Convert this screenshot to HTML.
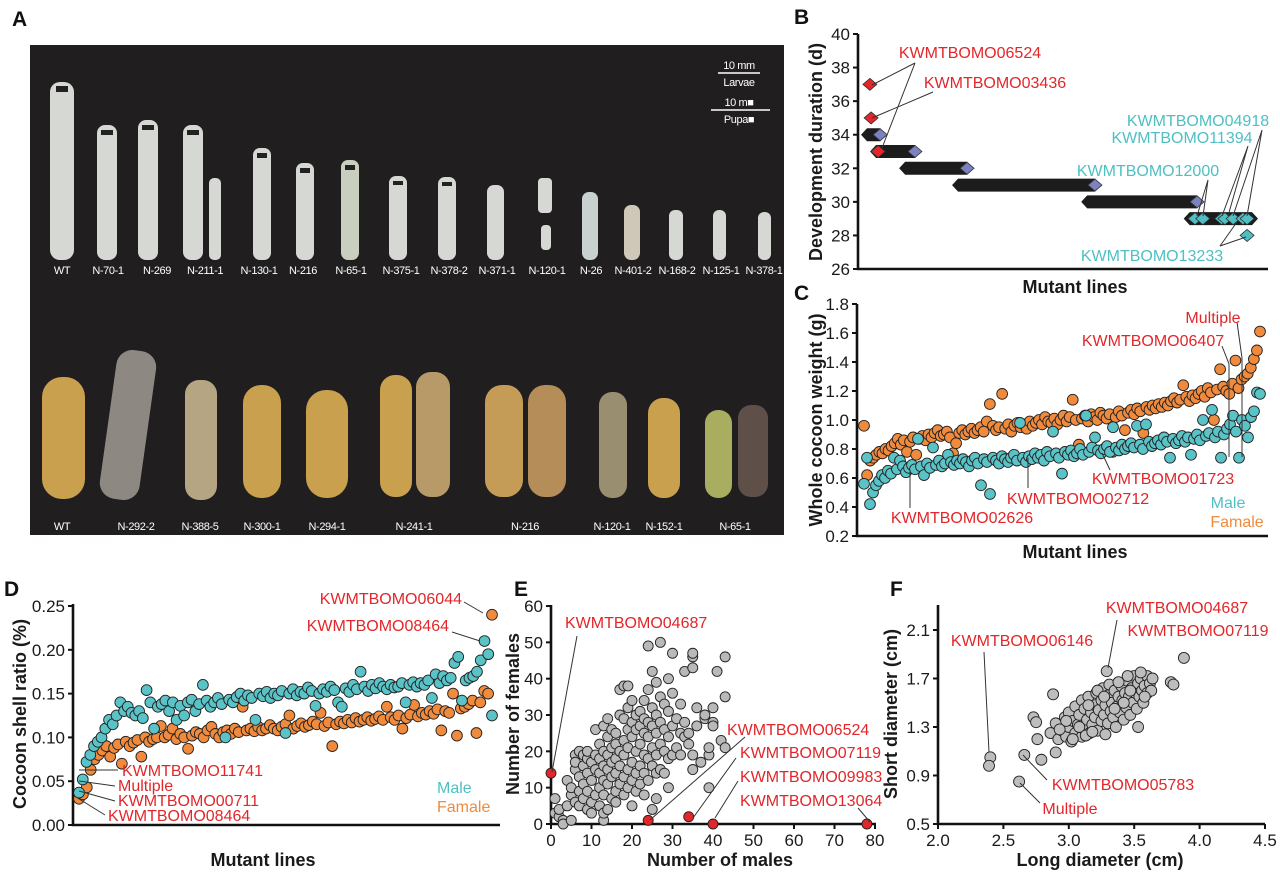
<!DOCTYPE html>
<html><head><meta charset="utf-8"><style>
html,body{margin:0;padding:0;background:#fff;}
svg{display:block;font-family:"Liberation Sans",Arial,sans-serif;}
.tk{font-size:17px;fill:#1a1a1a;}
.at{font-size:18px;font-weight:bold;fill:#1a1a1a;}
.pl{font-size:21px;font-weight:bold;fill:#111;}
.an{font-size:16px;fill:#e3262a;}
.ac{font-size:16px;fill:#4fbfc4;}
.lb{font-size:11px;fill:#fff;letter-spacing:-0.4px;}
.ax{stroke:#111;stroke-width:2.6;fill:none;}
.ln{stroke:#333;stroke-width:1;fill:none;}
</style></head><body>
<svg id="fig" width="1280" height="874" viewBox="0 0 1280 874" xmlns="http://www.w3.org/2000/svg">
<!-- Panel A -->
<text class="pl" x="12" y="26">A</text>
<rect x="30" y="45" width="754" height="490" fill="#201e1f"/>
<g fill="#d6d9d3">
<rect x="50" y="82" width="24" height="178" rx="10"/>
<rect x="97" y="125" width="20" height="135" rx="8"/>
<rect x="138" y="120" width="20" height="140" rx="8"/>
<rect x="183" y="125" width="20" height="135" rx="8"/>
<rect x="209" y="178" width="12" height="82" rx="5"/>
<rect x="253" y="148" width="18" height="112" rx="7"/>
<rect x="296" y="163" width="18" height="97" rx="7"/>
<rect x="341" y="160" width="18" height="100" rx="7" fill="#c9cfbf"/>
<rect x="389" y="176" width="18" height="84" rx="7"/>
<rect x="438" y="177" width="18" height="83" rx="7"/>
<rect x="487" y="185" width="17" height="75" rx="7"/>
<rect x="538" y="178" width="14" height="35" rx="4"/>
<rect x="541" y="225" width="10" height="25" rx="4"/>
<rect x="582" y="192" width="16" height="68" rx="7" fill="#c8d0d0"/>
<rect x="624" y="205" width="16" height="55" rx="7" fill="#cfc8b8"/>
<rect x="669" y="210" width="14" height="50" rx="6"/>
<rect x="713" y="210" width="13" height="50" rx="6"/>
<rect x="758" y="212" width="13" height="48" rx="6"/>
</g>
<g fill="#222">
<rect x="56" y="86" width="12" height="6"/><rect x="101" y="130" width="12" height="5"/><rect x="142" y="125" width="12" height="5"/><rect x="187" y="130" width="12" height="5"/><rect x="257" y="153" width="10" height="5"/><rect x="300" y="168" width="10" height="5"/><rect x="345" y="165" width="10" height="5"/><rect x="393" y="181" width="10" height="4"/><rect x="442" y="182" width="10" height="4"/>
</g>
<g class="lb" text-anchor="middle">
<text x="62" y="274">WT</text><text x="108" y="274">N-70-1</text><text x="157" y="274">N-269</text><text x="205" y="274">N-211-1</text><text x="259" y="274">N-130-1</text><text x="303" y="274">N-216</text><text x="351" y="274">N-65-1</text><text x="401" y="274">N-375-1</text><text x="449" y="274">N-378-2</text><text x="497" y="274">N-371-1</text><text x="547" y="274">N-120-1</text><text x="591" y="274">N-26</text><text x="633" y="274">N-401-2</text><text x="677" y="274">N-168-2</text><text x="721" y="274">N-125-1</text><text x="764" y="274">N-378-1</text>
</g>
<g>
<text class="lb" x="739" y="69" text-anchor="middle">10 mm</text>
<line x1="718" y1="73" x2="760" y2="73" stroke="#fff" stroke-width="1.5"/>
<text class="lb" x="739" y="86" text-anchor="middle">Larvae</text>
<text class="lb" x="739" y="106" text-anchor="middle">10 m■</text>
<line x1="711" y1="110" x2="770" y2="110" stroke="#fff" stroke-width="1.5"/>
<text class="lb" x="739" y="123" text-anchor="middle">Pupa■</text>
</g>
<g>
<rect x="42" y="377" width="43" height="122" rx="20" fill="#c9a04e"/>
<rect x="108" y="350" width="40" height="150" rx="16" fill="#8d8882" transform="rotate(8 128 425)"/>
<rect x="185" y="380" width="32" height="120" rx="14" fill="#b5a583"/>
<rect x="243" y="385" width="38" height="113" rx="18" fill="#c9a04e"/>
<rect x="306" y="390" width="42" height="108" rx="20" fill="#c9a04e"/>
<rect x="380" y="375" width="32" height="122" rx="15" fill="#c9a04e"/>
<rect x="416" y="372" width="34" height="125" rx="15" fill="#b89a68"/>
<rect x="485" y="385" width="38" height="112" rx="17" fill="#c59c57"/>
<rect x="528" y="385" width="38" height="112" rx="17" fill="#b58d58"/>
<rect x="599" y="392" width="28" height="106" rx="13" fill="#998e70"/>
<rect x="648" y="398" width="32" height="100" rx="15" fill="#c9a04e"/>
<rect x="705" y="410" width="27" height="88" rx="13" fill="#a8ad5f"/>
<rect x="738" y="405" width="30" height="92" rx="13" fill="#5e5049"/>
</g>
<g class="lb" text-anchor="middle">
<text x="62" y="530">WT</text><text x="136" y="530">N-292-2</text><text x="200" y="530">N-388-5</text><text x="262" y="530">N-300-1</text><text x="327" y="530">N-294-1</text><text x="414" y="530">N-241-1</text><text x="525" y="530">N-216</text><text x="612" y="530">N-120-1</text><text x="664" y="530">N-152-1</text><text x="735" y="530">N-65-1</text>
</g>

<!-- Panel B -->
<text class="pl" x="794" y="24">B</text>
<path class="ax" d="M858 34 V269 H1268"/>
<g id="bTicks"></g>
<text class="at" transform="translate(822 152) rotate(-90)" text-anchor="middle">Development duration (d)</text>
<text class="at" x="1075" y="293" text-anchor="middle">Mutant lines</text>
<g id="bMarks"></g>
<g>
<text class="an" x="970" y="58" text-anchor="middle">KWMTBOMO06524</text>
<text class="an" x="995" y="88" text-anchor="middle">KWMTBOMO03436</text>
<path class="ln" d="M915 63 L872 85 M915 63 L882 148 M933 92 L872 118"/>
<text class="ac" x="1198" y="126" text-anchor="middle">KWMTBOMO04918</text>
<text class="ac" x="1182" y="143" text-anchor="middle">KWMTBOMO11394</text>
<text class="ac" x="1148" y="176" text-anchor="middle">KWMTBOMO12000</text>
<text class="ac" x="1152" y="261" text-anchor="middle">KWMTBOMO13233</text>
<path class="ln" d="M1208 180 L1197 216 M1208 180 L1203 216 M1248 146 L1222 216 M1248 146 L1228 216 M1262 130 L1233 216 M1262 130 L1247 216 M1220 246 L1237 222 M1220 246 L1246 237"/>
</g>

<!-- Panel C -->
<text class="pl" x="794" y="300">C</text>
<path class="ax" d="M857 304 V536 H1268"/>
<g id="cTicks"></g>
<text class="at" transform="translate(822 420) rotate(-90)" text-anchor="middle">Whole cocoon weight (g)</text>
<text class="at" x="1075" y="558" text-anchor="middle">Mutant lines</text>
<g id="cMarks"></g>
<g>
<path class="ln" d="M1237 322 L1242 358 L1242 457 M1222 346 L1229 364 L1229 457 M1110 470 L1102 453 M1028 488 L1028 458 M910 508 L910 470"/>
<text class="an" x="1213" y="323" text-anchor="middle">Multiple</text>
<text class="an" x="1153" y="346" text-anchor="middle">KWMTBOMO06407</text>
<text class="an" x="1163" y="484" text-anchor="middle">KWMTBOMO01723</text>
<text class="an" x="1078" y="504" text-anchor="middle">KWMTBOMO02712</text>
<text class="an" x="962" y="523" text-anchor="middle">KWMTBOMO02626</text>
<text class="ac" x="1228" y="508" text-anchor="middle">Male</text>
<text x="1237" y="527" text-anchor="middle" style="font-size:16px;fill:#f08a3c">Famale</text>
</g>

<!-- Panel D -->
<text class="pl" x="4" y="596">D</text>
<path class="ax" d="M73 604 V825 H500"/>
<g id="dTicks"></g>
<text class="at" transform="translate(26 714) rotate(-90)" text-anchor="middle">Cocoon shell ratio (%)</text>
<text class="at" x="263" y="866" text-anchor="middle">Mutant lines</text>
<g id="dMarks"></g>
<g>
<path class="ln" d="M464 602 L483 613 M452 632 L480 641 M79 770 L118 770 M79 781 L115 786 M79 791 L115 801 M76 797 L105 815"/>
<text class="an" x="462" y="604" text-anchor="end">KWMTBOMO06044</text>
<text class="an" x="449" y="631" text-anchor="end">KWMTBOMO08464</text>
<text class="an" x="122" y="776">KWMTBOMO11741</text>
<text class="an" x="118" y="791">Multiple</text>
<text class="an" x="118" y="806">KWMTBOMO00711</text>
<text class="an" x="108" y="821">KWMTBOMO08464</text>
<text class="ac" x="437" y="793">Male</text>
<text x="437" y="812" style="font-size:16px;fill:#f08a3c">Famale</text>
</g>

<!-- Panel E -->
<text class="pl" x="514" y="596">E</text>
<path class="ax" d="M551 605 V824 H876"/>
<g id="eTicks"></g>
<text class="at" transform="translate(519 714) rotate(-90)" text-anchor="middle">Number of females</text>
<text class="at" x="720" y="866" text-anchor="middle">Number of males</text>
<g id="eMarks"></g>
<g>
<path class="ln" d="M577 636 L552 772 M745 737 L650 820 M736 758 L693 818 M738 781 L715 818 M858 808 L870 822"/>
<text class="an" x="565" y="628">KWMTBOMO04687</text>
<text class="an" x="727" y="735">KWMTBOMO06524</text>
<text class="an" x="740" y="758">KWMTBOMO07119</text>
<text class="an" x="740" y="782">KWMTBOMO09983</text>
<text class="an" x="740" y="806">KWMTBOMO13064</text>
</g>

<!-- Panel F -->
<text class="pl" x="890" y="596">F</text>
<path class="ax" d="M938 605 V824 H1265"/>
<g id="fTicks"></g>
<text class="at" transform="translate(897 714) rotate(-90)" text-anchor="middle">Short diameter (cm)</text>
<text class="at" x="1100" y="866" text-anchor="middle">Long diameter (cm)</text>
<g id="fMarks"></g>
<g>
<path class="ln" d="M984 652 L989 752 M1117 620 L1108 668 M1047 780 L1023 755 M1040 803 L1020 783"/>
<text class="an" x="1022" y="646" text-anchor="middle">KWMTBOMO06146</text>
<text class="an" x="1177" y="613" text-anchor="middle">KWMTBOMO04687</text>
<text class="an" x="1198" y="636" text-anchor="middle">KWMTBOMO07119</text>
<text class="an" x="1123" y="790" text-anchor="middle">KWMTBOMO05783</text>
<text class="an" x="1070" y="814" text-anchor="middle">Multiple</text>
</g>
</svg>
<script>
const NS = "http://www.w3.org/2000/svg";
// ---- Panel B data ----
const bBarDays = [34, 33, 32, 31, 30, 29];
const bBarStart = [2.2, 4.4, 11.5, 24.4, 55.9, 80.9];
const bBarEnd = [5.4, 13.9, 26.6, 57.8, 82.7, 96.1];
const bRedX = [2.9, 3.2, 4.9];
const bRedDays = [37, 35, 33];
const bCyanX = [82.2, 84.1, 88.7, 89.5, 91.5, 93.9, 94.9, 94.9];
const bCyanDays = [29, 29, 29, 29, 29, 29, 29, 28];
const bTickVals = [26, 28, 30, 32, 34, 36, 38, 40];
// ---- Panel C data ----
const cFemale = [0.96,0.62,0.72,0.74,0.76,0.78,0.77,0.80,0.79,0.82,0.84,0.87,0.83,0.86,0.78,0.85,0.88,0.76,0.87,0.89,0.86,0.90,0.88,0.91,0.93,0.89,0.90,0.92,0.88,0.77,0.84,0.91,0.93,0.90,0.92,0.94,0.91,0.93,0.95,0.92,0.99,1.11,0.96,0.93,0.95,1.18,0.94,0.97,0.92,0.96,0.98,0.95,0.97,0.94,0.99,0.96,0.98,1.00,0.97,1.02,0.99,0.98,1.01,0.97,1.00,1.03,0.99,1.02,1.14,1.00,0.83,1.01,1.03,0.99,1.04,1.02,1.00,1.05,1.03,1.01,1.04,0.78,1.02,1.06,1.03,0.93,1.05,1.07,1.04,1.08,1.06,0.91,1.09,1.07,1.10,1.08,1.11,1.09,1.12,1.10,1.13,1.15,1.12,1.14,1.24,1.16,1.13,1.17,1.15,1.18,1.20,1.16,1.22,1.19,1.00,1.21,1.35,1.23,1.20,1.18,1.25,1.41,1.22,1.28,1.30,1.32,1.36,1.42,1.48,1.61];
const cMale = [0.56,0.74,0.42,0.50,0.55,0.58,0.62,0.60,0.65,0.63,0.74,0.66,0.72,0.68,0.64,0.67,0.69,0.66,0.87,0.68,0.62,0.70,0.67,0.81,0.69,0.72,0.68,0.70,0.76,0.71,0.69,0.72,0.70,0.73,0.71,0.68,0.72,0.74,0.70,0.55,0.73,0.71,0.49,0.74,0.72,0.70,0.75,0.73,0.71,0.74,0.76,0.72,0.98,0.74,0.71,0.75,0.73,0.77,0.74,0.76,0.72,0.78,0.75,0.92,0.77,0.74,0.63,0.78,0.76,0.79,0.75,0.77,0.80,0.76,1.03,0.78,0.81,0.88,0.79,0.77,0.80,0.82,0.78,0.95,0.81,0.79,0.83,0.80,0.82,0.84,0.81,0.96,0.83,0.80,0.97,0.85,0.82,0.84,0.86,0.83,0.88,0.85,0.74,0.87,0.84,0.86,0.89,0.85,0.88,0.76,0.87,0.90,0.86,1.00,0.89,0.91,1.07,0.88,0.92,0.74,0.90,0.94,0.97,1.03,0.92,0.74,1.00,0.96,0.88,1.02,1.06,1.19,1.18];
const cTickVals = [0.2,0.4,0.6,0.8,1.0,1.2,1.4,1.6,1.8];
const cTickLabels = ["0.2","0.4","0.6","0.8","1.0","1.2","1.4","1.6","1.8"];
// ---- Panel D data ----
const dMale = [0.037,0.052,0.072,0.080,0.09,0.095,0.10,0.11,0.12,0.115,0.125,0.14,0.13,0.135,0.128,0.125,0.13,0.122,0.154,0.14,0.11,0.135,0.138,0.142,0.13,0.14,0.12,0.136,0.125,0.14,0.143,0.13,0.138,0.16,0.142,0.135,0.14,0.145,0.138,0.10,0.143,0.14,0.146,0.15,0.142,0.148,0.145,0.12,0.15,0.147,0.152,0.145,0.15,0.148,0.153,0.105,0.15,0.155,0.148,0.152,0.15,0.157,0.153,0.136,0.15,0.155,0.152,0.158,0.154,0.14,0.135,0.156,0.152,0.16,0.155,0.175,0.158,0.153,0.16,0.156,0.162,0.158,0.155,0.16,0.157,0.158,0.162,0.14,0.16,0.163,0.158,0.162,0.16,0.165,0.145,0.172,0.162,0.17,0.165,0.168,0.185,0.192,0.142,0.165,0.168,0.17,0.175,0.188,0.21,0.195,0.125];
const dFemale = [0.03,0.035,0.043,0.063,0.075,0.08,0.085,0.09,0.078,0.088,0.092,0.07,0.095,0.09,0.094,0.097,0.078,0.1,0.095,0.098,0.10,0.113,0.1,0.103,0.11,0.098,0.104,0.1,0.087,0.102,0.106,0.104,0.1,0.108,0.112,0.104,0.10,0.106,0.108,0.104,0.11,0.106,0.135,0.108,0.11,0.107,0.112,0.108,0.11,0.114,0.11,0.108,0.112,0.115,0.125,0.11,0.113,0.116,0.112,0.114,0.118,0.115,0.128,0.113,0.117,0.09,0.115,0.118,0.116,0.12,0.117,0.122,0.118,0.12,0.123,0.119,0.121,0.124,0.12,0.135,0.123,0.12,0.125,0.11,0.122,0.126,0.137,0.124,0.128,0.126,0.13,0.127,0.132,0.108,0.13,0.128,0.15,0.102,0.133,0.135,0.138,0.142,0.105,0.14,0.153,0.15,0.24];
const dTickVals = [0, 0.05, 0.10, 0.15, 0.20, 0.25];
const dTickLabels = ["0.00","0.05","0.10","0.15","0.20","0.25"];
// ---- Panel E data ----
const eMales = [1,1,2,2,3,3,4,4,5,5,5,6,6,6,6,7,7,7,7,8,8,8,8,9,9,9,9,9,10,10,10,10,11,11,11,11,12,12,12,12,12,13,13,13,13,13,13,13,14,14,14,14,14,14,15,15,15,15,15,16,16,16,16,16,16,17,17,17,17,17,18,18,18,18,18,18,19,19,19,19,19,19,20,20,20,20,20,20,21,21,21,21,21,22,22,22,22,22,23,23,23,23,23,23,24,24,24,24,24,24,25,25,25,25,25,25,26,26,26,26,26,26,27,27,27,27,27,28,28,28,28,29,29,29,29,29,30,30,30,30,31,31,32,32,32,33,33,33,34,34,35,35,35,35,35,36,36,37,38,38,39,39,39,40,40,40,41,42,43,43,43];
const eFemales = [3,7,2,4,1,0,5,12,1,8,10,6,15,19,17,9,13,20,5,7,11,16,19,4,9,14,18,20,6,12,17,3,8,15,19,26,5,10,14,22,18,1,3,8,12,20,27,16,4,11,15,19,24,29,7,13,17,21,26,6,9,14,18,22,25,11,16,20,30,37,8,13,19,23,29,38,10,15,21,26,32,38,5,12,17,24,28,34,9,14,20,26,30,11,16,22,27,31,8,14,19,25,29,34,12,18,24,28,37,49,4,16,21,27,32,42,7,14,19,25,30,39,15,22,28,35,50,14,20,26,33,10,18,24,31,40,19,27,36,47,21,29,19,25,33,24,28,42,22,25,15,43,46,47,19,32,27,17,29,30,10,19,21,32,28,27,42,23,21,35,46];
const eRedMales = [0, 24, 34, 40, 78];
const eRedFemales = [14, 1, 2, 0, 0];
const eXTicks = [0,10,20,30,40,50,60,70,80];
const eYTicks = [0,10,20,30,40,50,60];
// ---- Panel F data ----
const fLong = [2.40,2.39,2.62,2.66,2.79,2.90,2.88,2.73,2.75,2.76,3.29,3.88,3.78,3.80,3.53,2.86,2.90,2.92,2.95,2.97,2.98,3.00,3.00,3.02,3.03,3.05,3.05,3.07,3.08,3.10,3.10,3.12,3.12,3.14,3.15,3.16,3.17,3.18,3.20,3.20,3.21,3.22,3.23,3.25,3.25,3.26,3.27,3.28,3.28,3.30,3.30,3.31,3.32,3.33,3.34,3.35,3.36,3.37,3.38,3.39,3.40,3.41,3.42,3.43,3.44,3.45,3.46,3.47,3.48,3.49,3.50,3.51,3.52,3.53,3.54,3.55,3.56,3.57,3.58,3.60,3.60,3.62,3.63,3.64,3.55,3.45,3.38,3.22,3.15,3.08,2.98,2.93,3.03,3.13,3.18,3.35,3.42,3.27,3.47,3.58];
const fShort = [1.05,0.98,0.85,1.07,1.03,1.09,1.57,1.38,1.34,1.20,1.76,1.87,1.67,1.65,1.30,1.25,1.33,1.20,1.27,1.38,1.22,1.30,1.42,1.18,1.35,1.25,1.47,1.32,1.40,1.22,1.52,1.28,1.45,1.36,1.55,1.25,1.42,1.32,1.48,1.38,1.58,1.27,1.44,1.35,1.52,1.62,1.40,1.24,1.48,1.33,1.56,1.65,1.43,1.50,1.38,1.60,1.30,1.47,1.55,1.42,1.64,1.52,1.36,1.58,1.46,1.68,1.55,1.40,1.62,1.50,1.72,1.58,1.45,1.66,1.55,1.70,1.60,1.50,1.64,1.58,1.72,1.66,1.60,1.70,1.75,1.72,1.67,1.60,1.48,1.30,1.35,1.28,1.20,1.23,1.26,1.45,1.50,1.55,1.60,1.55];
const fXTicks = [2.0,2.5,3.0,3.5,4.0,4.5];
const fXTickLabels = ["2.0","2.5","3.0","3.5","4.0","4.5"];
const fYTicks = [0.5,0.9,1.3,1.7,2.1];
const fYTickLabels = ["0.5","0.9","1.3","1.7","2.1"];

// scales
const bx = v => 858 + v * 4.1;
const by = v => 34 + (40 - v) * 16.786;
const cx = (i, n) => 864 + i / (n - 1) * 396;
const cy = v => 536 - (v - 0.2) * 145;
const dx = (i, n) => 79 + i / (n - 1) * 413;
const dy = v => 825 - v * 876;
const ex = v => 551 + v * 4.05;
const ey = v => 824 - v * 3.633;
const fx = v => 938 + (v - 2) * 130.8;
const fy = v => 824 - (v - 0.5) * 121.25;

function mk(tag, attrs, parent) {
  const e = document.createElementNS(NS, tag);
  for (const k in attrs) e.setAttribute(k, attrs[k]);
  parent.appendChild(e);
  return e;
}
const g = id => document.getElementById(id);

function yTicks(parentId, axisX, vals, labels, scale, nm) {
  const p = g(parentId);
  vals.forEach((v, i) => {
    const y = scale(v);
    const l = mk('line', {x1: axisX - 5, x2: axisX, y1: y, y2: y, stroke: '#111', 'stroke-width': 2}, p);
    
    
    const t = mk('text', {x: axisX - 8, y: y + 6, class: 'tk', 'text-anchor': 'end'}, p);
    t.textContent = labels[i];
    
    
  });
}
function xTicks(parentId, axisY, vals, labels, scale, nm) {
  const p = g(parentId);
  vals.forEach((v, i) => {
    const x = scale(v);
    const l = mk('line', {x1: x, x2: x, y1: axisY, y2: axisY + 5, stroke: '#111', 'stroke-width': 2}, p);
    
    
    const t = mk('text', {x: x, y: axisY + 22, class: 'tk', 'text-anchor': 'middle'}, p);
    t.textContent = labels[i];
    
    
  });
}
function dot(p, x, y, r, fill, nm) {
  const c = mk('circle', {cx: x, cy: y, r: r, fill: fill, stroke: '#222', 'stroke-width': 0.9}, p);
  
  
  return c;
}
function diamond(p, x, y, fill, nm) {
  const d = mk('polygon', {points: `${x},${y-6} ${x+7},${y} ${x},${y+6} ${x-7},${y}`, fill: fill, stroke: '#333', 'stroke-width': 0.8}, p);
  
  
}

// B
yTicks('bTicks', 858, bTickVals, bTickVals.map(String), by, 'b-y');
const bm = g('bMarks');
bBarDays.forEach((d, i) => {
  const x0 = bx(bBarStart[i]), x1 = bx(bBarEnd[i]), y = by(d);
  const bar = mk('polygon', {points: `${x0-6},${y} ${x0},${y-6.5} ${x1},${y-6.5} ${x1+6},${y} ${x1},${y+6.5} ${x0},${y+6.5}`, fill: '#1c1c1c'}, bm);
  
  
  if (i < 5) diamond(bm, x1, y, '#7a82c0', 'bar-end-diamond');
});
bRedX.forEach((x, i) => diamond(bm, bx(x), by(bRedDays[i]), '#e3262a', 'red-diamond'));
bCyanX.forEach((x, i) => diamond(bm, bx(x), by(bCyanDays[i]), '#4fbfc4', 'cyan-diamond'));

// C
yTicks('cTicks', 857, cTickVals, cTickLabels, cy, 'c-y');
const cmk = g('cMarks');
cFemale.forEach((v, i) => dot(cmk, cx(i, cFemale.length), cy(v), 5.4, '#f08a3c', 'female-point'));
cMale.forEach((v, i) => dot(cmk, cx(i, cMale.length), cy(v), 5.4, '#59c3c7', 'male-point'));

// D
yTicks('dTicks', 73, dTickVals, dTickLabels, dy, 'd-y');
const dmk = g('dMarks');
dFemale.forEach((v, i) => dot(dmk, dx(i, dFemale.length), dy(v), 5.4, '#f08a3c', 'female-point'));
dMale.forEach((v, i) => dot(dmk, dx(i, dMale.length), dy(v), 5.4, '#59c3c7', 'male-point'));

// E
yTicks('eTicks', 551, eYTicks, eYTicks.map(String), ey, 'e-y');
xTicks('eTicks', 824, eXTicks, eXTicks.map(String), ex, 'e-x');
const emk = g('eMarks');
eMales.forEach((m, i) => dot(emk, ex(m), ey(eFemales[i]), 5, '#b9b9b9', 'line-point'));
eRedMales.forEach((m, i) => dot(emk, ex(m), ey(eRedFemales[i]), 5, '#e3262a', 'highlight-point'));

// F
yTicks('fTicks', 938, fYTicks, fYTickLabels, fy, 'f-y');
xTicks('fTicks', 824, fXTicks, fXTickLabels, fx, 'f-x');
const fmk = g('fMarks');
fLong.forEach((l, i) => dot(fmk, fx(l), fy(fShort[i]), 5.5, '#bdbdbd', 'cocoon-point'));
</script>
</body></html>
